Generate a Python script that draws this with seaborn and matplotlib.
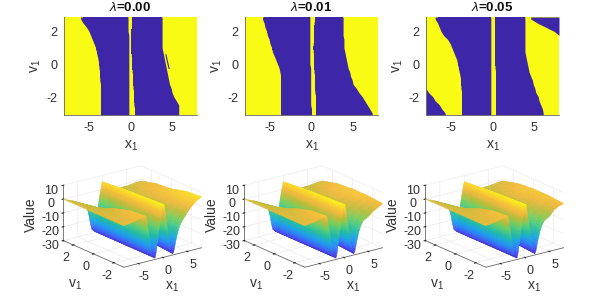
import numpy as np
import matplotlib
matplotlib.use("Agg")
import matplotlib.pyplot as plt
from matplotlib.colors import ListedColormap, LinearSegmentedColormap
import seaborn as sns

sns.set_style("white")
plt.rcParams["font.family"] = ["Liberation Sans", "DejaVu Sans"]
plt.rcParams["mathtext.fontset"] = "custom"
plt.rcParams["mathtext.rm"] = "Liberation Sans"
plt.rcParams["mathtext.it"] = "Liberation Sans:italic"
plt.rcParams["mathtext.bf"] = "Liberation Sans:bold"

titles = ["$\\lambda$=0.00", "$\\lambda$=0.01", "$\\lambda$=0.05"]

# switching boundaries, row by row from v=2.875 to v=-2.875
left_edge = [
    [-6.0,-5.7,-5.3,-5.0,-4.8,-4.6,-4.4,-4.2,-4.1,-4.0,-3.9,-3.8,-3.8,-3.7,-3.7,-3.7,-3.6,-3.6,-3.6,-3.6,-3.6,-3.6,-3.6,-3.6],
    [-5.9,-5.7,-5.6,-5.4,-5.3,-5.1,-5.0,-4.8,-4.7,-4.5,-4.3,-4.1,-3.9,-3.8,-3.7,-3.7,-3.7,-3.7,-3.7,-3.7,-3.7,-3.7,-3.7,-3.7],
    [-6.9,-6.6,-6.4,-6.2,-5.9,-5.4,-5.1,-4.9,-4.7,-4.5,-4.3,-4.2,-4.1,-4.0,-3.9,-3.8,-3.8,-3.8,-3.7,-3.7,-3.7,-3.7,-3.7,-3.7],
]
centre_left = [
    [-.3,-.3,-.3,-.3,-.2,-.2,-.2,-.2,-.2,-.2,-.2,-.2,-.2,-.2,-.2,-.2,-.2,-.2,-.2,-.2,-.2,-.2,-.2,-.2],
    [-.2,-.2,-.2,-.2,-.2,-.2,-.2,-.2,-.2,-.2,-.2,-.2,-.1,-.1,-.1,-.1,-.1,-.1,-.1,-.1,-.1,-.1,0,0],
    [-.2,-.2,-.2,-.2,-.2,-.2,-.2,-.2,-.2,-.2,-.2,-.2,-.2,-.2,-.2,-.2,-.2,-.2,-.2,-.2,-.2,-.2,-.2,-.2],
]
centre_right = [
    [.2,.2,.1,.1,.1,.1,.1,.1,.1,.1,.2,.2,.2,.2,.3,.3,.3,.3,.4,.4,.4,.4,.5,.5],
    [.4,.3,.3,.3,.3,.3,.2,.2,.2,.3,.3,.3,.3,.3,.4,.4,.4,.4,.4,.5,.5,.5,.5,.5],
    [.3,.3,.3,.3,.3,.3,.3,.3,.3,.3,.3,.3,.3,.4,.4,.4,.4,.4,.4,.4,.4,.4,.4,.4],
]
right_edge = [
    [3.8,3.8,3.8,3.8,3.8,3.8,3.8,3.8,3.9,4.0,4.1,4.2,4.3,4.4,4.5,4.6,4.7,4.9,5.0,5.2,5.5,5.8,5.8,5.8],
    [3.8,3.8,3.8,3.8,3.8,3.9,3.9,3.9,4.0,4.1,4.2,4.3,4.4,4.6,4.7,4.9,5.0,5.4,5.7,6.1,6.4,6.7,7.0,7.3],
    [3.9,3.9,3.9,3.9,3.9,3.9,3.9,3.9,3.9,4.0,4.1,4.2,4.3,4.4,4.6,4.8,4.9,5.1,5.2,5.5,5.6,5.8,6.0,6.1],
]
corner_low = [-8]*17 + [-8, -7.7, -7.2, -6.9, -6.4, -6.1, -5.7]
corner_high = [4.6, 5.4, 6.4, 7.4] + [8]*20
sliver_v = [.75, .375, 0, -.15]
sliver_x = [4.12, 4.28, 4.45, 4.52]

# surface: one row per x level, columns are the v levels
v_levels = [-3, -1.5, 0, 1.5, 3]
x_levels = [-8,-6,-5,-4.5,-4,-3.5,-3.2,-2.95,-2.7,-2.45,-2.15,-1.6,-1.4,-1.2,-1,-.85,-.65,-.45,-.25,0,.25,.55,.85,1.15,1.45,1.75,2.05,2.3,2.7,3.1,3.5,4,5,6,7,8]
value_table = [
    [0,0,0,0,0],[1,0,-1,-2,-3],[2,1,-1,-3,-5],[2.5,1.5,-1,-4,-7],[3,2,-1,-5,-8],[3,2,-1,-6,-10],
    [-2,-3,-6,-9,-11],[-8,-9,-10,-12,-13],[-14,-15,-15,-16,-17],[-21,-21,-21,-22,-22],[-26,-26,-26,-27,-27],
    [-29,-29,-29,-29,-29],[-26,-26,-26,-26,-26],[-21,-21,-21,-21,-21],[-16,-16,-16,-16,-16],[-11,-11,-11,-11,-12],
    [-6,-6,-6,-6,-7],[-2,-2,-2,-2,-3],[3,3,2,2,1],[8.5,8,7.5,6.5,5.5],[8,7,6.5,5.5,4.5],[1,2,3,3,3],
    [-7,-6,-5,-4,-3],[-14,-13,-12,-10,-8],[-21,-20,-19,-17,-14],[-26,-25,-24,-22,-20],[-29,-28,-27,-26,-24],
    [-27,-27,-25,-22,-18],[-20,-18,-15,-10,-8],[-14,-11,-7,-4,-3],[-10,-6,-3,-2,-2.5],[-7,-3,-.5,-1,-2],
    [-2,1,1,0,-2],[2,3,2.5,1,-1.5],[5,5,3,1.5,-1],[7,6,3,2,-1],
]
# panel-specific values along the near edge, for x = 5, 6, 7, 8
tail_near = [[-2,2,5,7], [-5,-2,0,2], [-5,-1,1,2]]
tail_next = [[1,3,5,6], [-1,1,3,3], [-1,1.5,2,3]]

BLUE, YELLOW = "#3E26A8", "#F9FB15"
parula = LinearSegmentedColormap.from_list("parula", ["#3E26A8","#4852F4","#2D87F7","#1CAADF","#25BBA5","#48CB86","#7FCD5A","#BEBD3C","#F1BA3D","#FAD32F","#F9FB15"])
INK = "#303030"

W, H = 598, 300
fig = plt.figure(figsize=(W/100, H/100), dpi=100)

x_cells = -7.95 + 0.1*np.arange(160)
v_cells = 2.875 - 0.25*np.arange(24)
v_full = np.concatenate(([3.0], v_cells, [-3.0]))
cx_of = lambda x: (np.asarray(x, dtype=float) + 8)/0.1
cy_of = lambda v: (3 - np.asarray(v, dtype=float))/0.25
full = lambda e: np.array([e[0]] + list(e) + [e[-1]], dtype=float)

for i in range(3):
    px = 64 + 181*i
    ax = fig.add_axes([px/W, 1-115/H, 133/W, 98/H])
    grid = np.zeros((24, 160), dtype=bool)
    for r in range(24):
        grid[r] = ((x_cells > left_edge[i][r]) & (x_cells < centre_left[i][r])) | ((x_cells > centre_right[i][r]) & (x_cells < right_edge[i][r]))
    inner = grid.copy()
    inner[1:] &= grid[:-1]
    inner[:-1] &= grid[1:]
    sns.heatmap(inner.astype(int), ax=ax, cmap=ListedColormap([YELLOW, BLUE]), vmin=0, vmax=1, cbar=False, rasterized=True)
    yy = cy_of(v_full)
    ax.fill_betweenx(yy, cx_of(full(left_edge[i])), cx_of(full(centre_left[i])), color=BLUE, lw=0)
    ax.fill_betweenx(yy, cx_of(full(centre_right[i])), cx_of(full(right_edge[i])), color=BLUE, lw=0)
    if i == 2:
        ax.fill_betweenx(yy, cx_of(-8), cx_of(full(corner_low)), color=BLUE, lw=0)
        ax.fill_betweenx(yy, cx_of(full(corner_high)), cx_of(8), color=BLUE, lw=0)
    if i == 0:
        ax.fill_betweenx(cy_of(sliver_v), cx_of(sliver_x), cx_of(np.array(sliver_x)+0.14), color=BLUE, lw=0)
    ax.set_xticks([(t+8)/0.1 for t in (-5, 0, 5)])
    ax.set_xticklabels(["-5", "0", "5"], rotation=0, fontsize=9, color=INK)
    ax.set_yticks([(3-t)/0.25 for t in (2, 0, -2)])
    ax.set_yticklabels(["2", "0", "-2"], rotation=0, fontsize=9, color=INK)
    ax.tick_params(length=0, pad=5)
    ax.set_xlabel("x$_1$", fontsize=10, color=INK, labelpad=3)
    ax.set_ylabel("v$_1$", fontsize=10, color=INK, labelpad=2)
    ax.set_title(titles[i], fontsize=9.5, fontweight="bold", color="#111111", pad=4)
    for s in ("bottom", "left"):
        ax.spines[s].set_visible(True)
        ax.spines[s].set_color("#666666")
        ax.spines[s].set_linewidth(0.6)

    Z3 = np.array(value_table, dtype=float)
    Z3[-4:, 0] = tail_near[i]
    Z3[-4:, 1] = tail_next[i]
    S = 147.5
    cx = 130.5 + 181*i
    cy = 218.5
    a3 = fig.add_axes([(cx-S/2)/W, 1-(cy+S/2)/H, S/W, S/H], projection="3d", proj_type="ortho", computed_zorder=False)
    a3.patch.set_alpha(0)
    a3.set_box_aspect((95, 98, 57))
    a3.view_init(elev=19.4, azim=-127)
    # paint cell by cell from the far corner to the near corner; each cell is shaded in small steps
    order = 10
    s_w = np.linspace(0, 1, 4)
    for jv in range(len(v_levels)-2, -1, -1):
        for ix in range(len(x_levels)-2, -1, -1):
            zc = Z3[ix:ix+2, jv:jv+2]
            nx = int(np.clip(np.ceil((zc.max()-zc.min())/1.5), 1, 5))
            t = np.linspace(0, 1, nx+1)
            T, Sg = np.meshgrid(t, s_w, indexing="ij")
            xs = x_levels[ix] + T*(x_levels[ix+1]-x_levels[ix])
            vs = v_levels[jv] + Sg*(v_levels[jv+1]-v_levels[jv])
            zs = (1-T)*(1-Sg)*zc[0,0] + T*(1-Sg)*zc[1,0] + (1-T)*Sg*zc[0,1] + T*Sg*zc[1,1]
            zmid = (zs[:-1,:-1]+zs[1:,:-1]+zs[:-1,1:]+zs[1:,1:])/4
            a3.plot_surface(xs, vs, zs, facecolors=parula((zmid+30)/39), rstride=1, cstride=1,
                            linewidth=0.3, antialiased=True, shade=False, zorder=order)
            order += 1
    a3.set_xlim(-8, 8); a3.set_ylim(-3, 3); a3.set_zlim(-30, 10)
    a3.set_xticks([-5, 0, 5]); a3.set_xticklabels(["-5", "0", "5"], fontsize=9, color=INK)
    a3.set_yticks([-2, 0, 2]); a3.set_yticklabels(["-2", "0", "2"], fontsize=9, color=INK)
    a3.set_zticks([-30, -20, -10, 0, 10]); a3.set_zticklabels(["-30", "-20", "-10", "0", "10"], fontsize=9, color=INK)
    a3.tick_params(axis="both", pad=-3, length=0)
    for axis in (a3.xaxis, a3.yaxis, a3.zaxis):
        axis.set_pane_color((1, 1, 1, 0))
        axis.pane.set_edgecolor("#ebebeb")
        axis._axinfo["grid"].update(color="#ebebeb", linewidth=0.5)
        axis.line.set_color("#666666")
        axis.line.set_linewidth(0.6)
    a3.text2D((172+181*i)/W, 1-287/H, "x$_1$", transform=fig.transFigure, ha="center", va="center", fontsize=10, color=INK)
    a3.text2D((75+181*i)/W, 1-285/H, "v$_1$", transform=fig.transFigure, ha="center", va="center", fontsize=10, color=INK)
    a3.text2D((31+181*i)/W, 1-215/H, "Value", transform=fig.transFigure, ha="center", va="center", rotation=90, fontsize=10, color=INK)

fig.savefig("out.png", dpi=100)
